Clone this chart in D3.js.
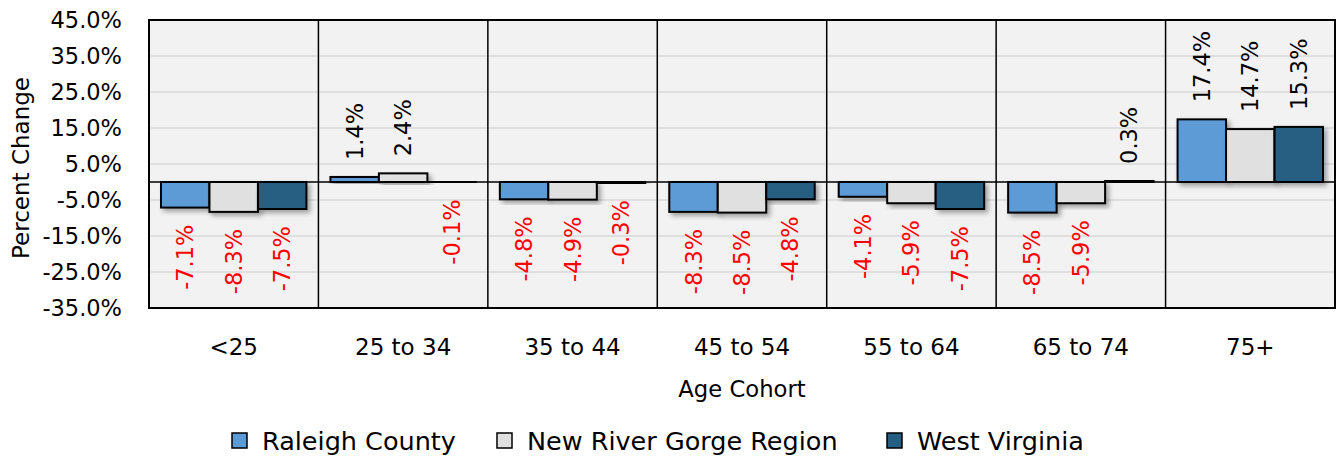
<!DOCTYPE html>
<html>
<head>
<meta charset="utf-8">
<script src="https://cdn.jsdelivr.net/npm/d3@7"></script>
<style>
  body { margin: 0; background: #fff; }
  text { font-family: "DejaVu Sans", sans-serif; }
</style>
</head>
<body>
<svg width="1337" height="460"></svg>
<script>
var width = 1337;
var height = 460;

var cohorts = ['<25', '25 to 34', '35 to 44', '45 to 54', '55 to 64', '65 to 74', '75+'];
var seriesNames = ['Raleigh County', 'New River Gorge Region', 'West Virginia'];
var raleigh = [-7.1, 1.4, -4.8, -8.3, -4.1, -8.5, 17.4];
var newRiver = [-8.3, 2.4, -4.9, -8.5, -5.9, -5.9, 14.7];
var westVirginia = [-7.5, -0.1, -0.3, -4.8, -7.5, 0.3, 15.3];
var yTicks = [45, 35, 25, 15, 5, -5, -15, -25, -35];
var colors = ['#5b9bd5', '#e0e0e0', '#255e82'];

var seriesValues = [raleigh, newRiver, westVirginia];
var rows = cohorts.map((c, i) => ({
  cohort: c,
  values: seriesNames.map((s, j) => ({ key: s, value: seriesValues[j][i], idx: j }))
}));

var plotLeft = 149, plotRight = 1335, plotTop = 20, plotBottom = 308;

var svg = d3.select('svg');

var defs = svg.append('defs');
var f = defs.append('filter').attr('id', 'shadow')
    .attr('x', '-20%').attr('y', '-20%').attr('width', '150%').attr('height', '150%');
f.append('feDropShadow').attr('dx', 3).attr('dy', 3).attr('stdDeviation', 2.5)
    .attr('flood-color', '#000').attr('flood-opacity', 0.35);

var x0 = d3.scaleBand()
    .domain(cohorts)
    .range([plotLeft, plotRight])
    .padding(0);

var x1 = d3.scaleBand()
    .domain(seriesNames)
    .range([12, x0.bandwidth() - 12])
    .padding(0);

var y = d3.scaleLinear()
    .domain([-35, 45])
    .range([plotBottom, plotTop]);

// plot background
svg.append('rect')
    .attr('x', plotLeft).attr('y', plotTop)
    .attr('width', plotRight - plotLeft).attr('height', plotBottom - plotTop)
    .attr('fill', '#f2f2f2');

// gridlines
svg.append('g')
  .selectAll('line')
  .data(yTicks)
  .enter()
  .append('line')
    .attr('x1', plotLeft).attr('x2', plotRight)
    .attr('y1', d => y(d)).attr('y2', d => y(d))
    .attr('stroke', '#d9d9d9')
    .attr('stroke-width', 1.5);

// bars
var groups = svg.append('g')
  .selectAll('.grp')
  .data(rows)
  .enter()
  .append('g')
    .classed('grp', true)
    .attr('transform', d => 'translate(' + x0(d.cohort) + ',0)');

groups.selectAll('rect')
  .data(d => d.values)
  .enter()
  .append('rect')
    .attr('x', d => x1(d.key))
    .attr('y', d => y(Math.max(0, d.value)))
    .attr('width', x1.bandwidth())
    .attr('height', d => Math.abs(y(d.value) - y(0)))
    .attr('fill', d => colors[d.idx])
    .attr('stroke', '#000')
    .attr('stroke-width', 2)
    .attr('filter', 'url(#shadow)');

// zero line
svg.append('line')
    .attr('x1', plotLeft).attr('x2', plotRight)
    .attr('y1', y(0)).attr('y2', y(0))
    .attr('stroke', '#000').attr('stroke-width', 1.5);

// category separators
svg.append('g')
  .selectAll('line')
  .data(cohorts.slice(1))
  .enter()
  .append('line')
    .attr('x1', d => x0(d)).attr('x2', d => x0(d))
    .attr('y1', plotTop).attr('y2', plotBottom)
    .attr('stroke', '#000').attr('stroke-width', 1.5);

// frame
svg.append('rect')
    .attr('x', plotLeft).attr('y', plotTop)
    .attr('width', plotRight - plotLeft).attr('height', plotBottom - plotTop)
    .attr('fill', 'none')
    .attr('stroke', '#000').attr('stroke-width', 2);

// value labels
groups.selectAll('.lbl')
  .data(d => d.values)
  .enter()
  .append('text')
    .classed('lbl', true)
    .attr('transform', d => {
      var cx = x1(d.key) + x1.bandwidth() / 2 + 8;
      var cy = d.value >= 0 ? y(d.value) - 17 : y(d.value) + 17;
      return 'translate(' + cx + ',' + cy + ') rotate(-90)';
    })
    .attr('text-anchor', d => d.value >= 0 ? 'start' : 'end')
    .attr('font-size', 22.5)
    .attr('fill', d => d.value >= 0 ? '#000' : '#ff0000')
    .text(d => d.value.toFixed(1) + '%');

// y axis labels
svg.append('g')
  .selectAll('text')
  .data(yTicks)
  .enter()
  .append('text')
    .attr('x', plotLeft - 27)
    .attr('y', d => y(d) + 8)
    .attr('text-anchor', 'end')
    .attr('font-size', 22.5)
    .text(d => d.toFixed(1) + '%');

// x axis labels
svg.append('g')
  .selectAll('text')
  .data(cohorts)
  .enter()
  .append('text')
    .attr('x', d => x0(d) + x0.bandwidth() / 2)
    .attr('y', 355)
    .attr('text-anchor', 'middle')
    .attr('font-size', 23)
    .text(d => d);

svg.append('text')
    .attr('x', (plotLeft + plotRight) / 2)
    .attr('y', 397)
    .attr('text-anchor', 'middle')
    .attr('font-size', 22.7)
    .text('Age Cohort');

svg.append('text')
    .attr('transform', 'translate(29,' + 168 + ') rotate(-90)')
    .attr('text-anchor', 'middle')
    .attr('font-size', 23)
    .text('Percent Change');

// legend
var legendX = [232, 497, 887];
var legend = svg.append('g')
  .selectAll('g')
  .data(seriesNames)
  .enter()
  .append('g')
    .attr('transform', (d, i) => 'translate(' + legendX[i] + ',433)');

legend.append('rect')
    .attr('width', 15).attr('height', 15)
    .attr('fill', (d, i) => colors[i])
    .attr('stroke', '#000').attr('stroke-width', 1.5);

legend.append('text')
    .attr('x', 30)
    .attr('y', 17)
    .attr('font-size', 25.5)
    .text(d => d);
</script>
</body>
</html>
